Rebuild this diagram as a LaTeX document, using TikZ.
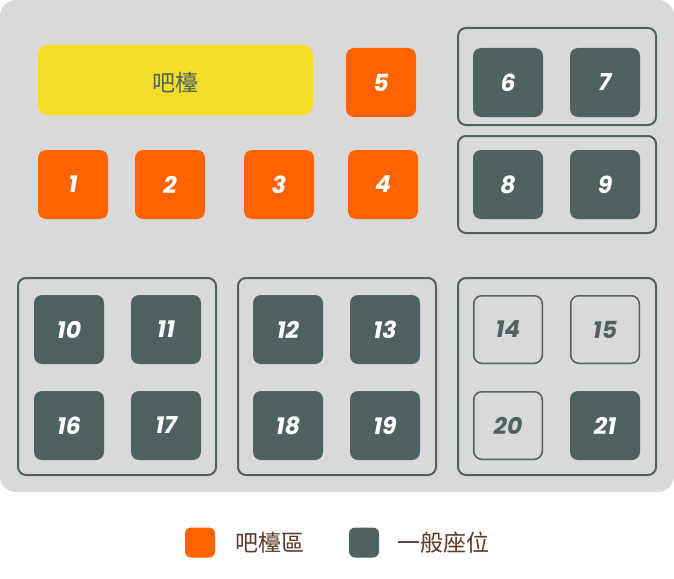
\documentclass[tikz,border=0pt]{standalone}
\usepackage{fontspec}
\setmainfont{Poppins}
\newfontfamily\numfont[UprightFont=*-BoldItalic]{Poppins}
\newfontfamily\cjk{Noto Sans CJK TC}
\definecolor{bgc}{HTML}{D9D9D9}
\definecolor{orng}{HTML}{FF6300}
\definecolor{slate}{HTML}{4E6262}
\definecolor{bary}{HTML}{F3DD27}
\definecolor{brn}{HTML}{5C3A28}
\tikzset{
  x=1pt,y=-1pt,
  seatbase/.style={rounded corners=8pt, minimum width=70pt, minimum height=69pt, inner sep=0pt, font=\numfont\fontsize{23.5}{23.5}\selectfont},
  barseat/.style={seatbase, fill=orng, text=white},
  fullseat/.style={seatbase, fill=slate, text=white},
  freeseat/.style={seatbase, draw=slate, line width=1.5pt, text=slate, minimum width=68.5pt, minimum height=67.5pt},
  tablebox/.style={draw=slate, line width=2pt, rounded corners=8pt},
  legkey/.style={rounded corners=6pt, minimum size=30pt, inner sep=0pt},
  legtext/.style={font=\cjk\fontsize{23}{23}\selectfont, text=brn, anchor=west, inner sep=0pt}
}
\begin{document}
\begin{tikzpicture}
\useasboundingbox (0,0) rectangle (674,578);
\fill[white] (0,0) rectangle (674,578);
\fill[bgc, rounded corners=16pt] (0,0) rectangle (674,492);
% bar
\node[fill=bary, rounded corners=10pt, minimum width=275pt, minimum height=70pt, inner sep=0pt] (bar) at (175.5,80) {};
\node[text=slate, font=\cjk\fontsize{23}{23}\selectfont, inner sep=0pt] (barlabel) at (175.5,82.5) {吧檯};
% bar seats
\node[barseat] (s1) at (73,184.5) {1};
\node[barseat] (s2) at (170,184.5) {2};
\node[barseat] (s3) at (279,184.5) {3};
\node[barseat] (s4) at (383,184.5) {4};
\node[barseat] (s5) at (381,82.5) {5};
% table boxes
\draw[tablebox] (458,28) rectangle (656,125);
\draw[tablebox] (458,136) rectangle (656,233);
\draw[tablebox] (18,278) rectangle (216,475);
\draw[tablebox] (238,278) rectangle (436,475);
\draw[tablebox] (458,278) rectangle (656,475);
% seats
\node[fullseat] (s6) at (508,82.5) {6};
\node[fullseat] (s7) at (605,82.5) {7};
\node[fullseat] (s8) at (508,184.5) {8};
\node[fullseat] (s9) at (605,184.5) {9};
\node[fullseat] (s10) at (69,329.5) {10};
\node[fullseat] (s11) at (166,329.5) {11};
\node[fullseat] (s16) at (69,425.5) {16};
\node[fullseat] (s17) at (166,425.5) {17};
\node[fullseat] (s12) at (288,329.5) {12};
\node[fullseat] (s13) at (385,329.5) {13};
\node[fullseat] (s18) at (288,425.5) {18};
\node[fullseat] (s19) at (385,425.5) {19};
\node[freeseat] (s14) at (508,329.5) {14};
\node[freeseat] (s15) at (605,329.5) {15};
\node[freeseat] (s20) at (508,425.5) {20};
\node[fullseat] (s21) at (605,425.5) {21};
% legend
\node[legkey, fill=orng] (k1) at (200,542.5) {};
\node[legtext] (t1) at (235,543) {吧檯區};
\node[legkey, fill=slate] (k2) at (364,542.5) {};
\node[legtext] (t2) at (397,543) {一般座位};
\end{tikzpicture}
\end{document}
